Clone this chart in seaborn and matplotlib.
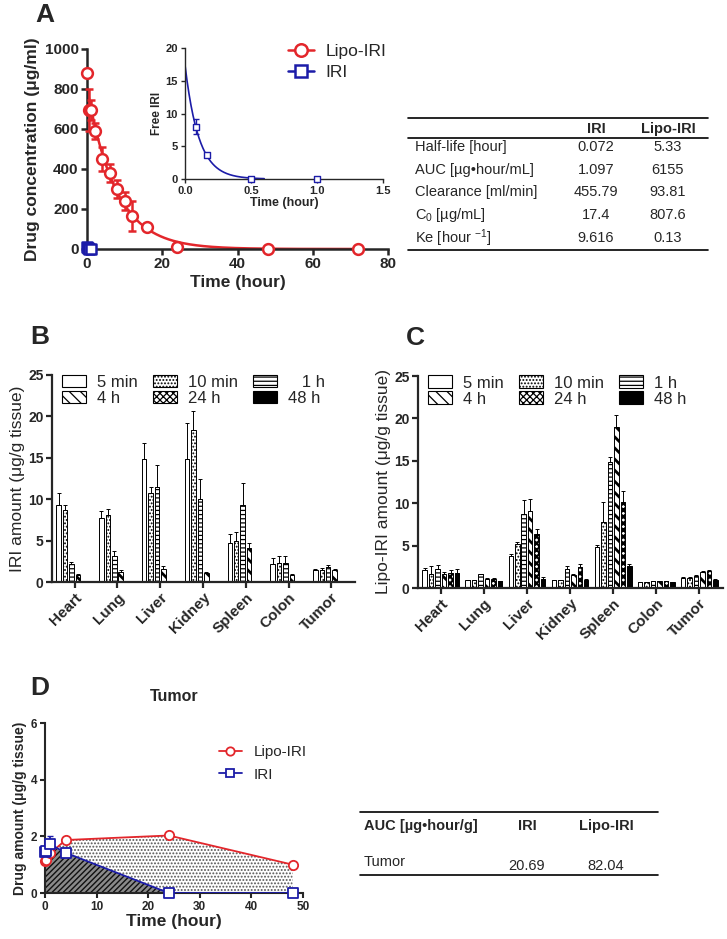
import numpy as np
import pandas as pd
import seaborn as sns
import matplotlib.pyplot as plt
from matplotlib.patches import Patch
from matplotlib.lines import Line2D
from matplotlib.container import BarContainer

sns.set_style('ticks')
plt.rcParams['font.family'] = ['Liberation Sans', 'DejaVu Sans']
plt.rcParams['mathtext.default'] = 'regular'
plt.rcParams['hatch.linewidth'] = 0.9

RED = '#e3262b'
BLUE = '#1c1ca8'

# ---- A: plasma concentration
lipo_t = [0.083, 0.5, 1, 2, 4, 6, 8, 10, 12, 16, 24, 48, 72]
lipo_c = [880, 695, 695, 590, 450, 378, 298, 240, 165, 110, 12, 0, 0]
lipo_sd = [0, 105, 50, 40, 60, 45, 45, 45, 75, 17, 0, 0, 0]
iri_t = [0.083, 0.167, 0.5, 1.0]
iri_c = [8.0, 3.6, 0, 0]
iri_sd = [1.2, 0.3, 0, 0]

pk_rows = ['Half-life [hour]', 'AUC [µg•hour/mL]', 'Clearance [ml/min]',
           'C$_0$ [µg/mL]', 'Ke [hour $^{-1}$]']
pk_iri = ['0.072', '1.097', '455.79', '17.4', '9.616']
pk_lipo = ['5.33', '6155', '93.81', '807.6', '0.13']

# ---- B / C: tissue distribution (rows = time point, cols = organ)
organs = ['Heart', 'Lung', 'Liver', 'Kidney', 'Spleen', 'Colon', 'Tumor']
times = ['5 min', '10 min', '1 h', '4 h', '24 h', '48 h']
iri_mean = [[9.3, 7.7, 14.9, 14.9, 4.7, 2.2, 1.4],
            [8.7, 8.1, 10.8, 18.4, 5.0, 2.3, 1.5],
            [2.2, 3.2, 11.5, 10.0, 9.3, 2.3, 1.8],
            [0.9, 1.2, 1.6, 1.1, 4.1, 0.9, 1.5],
            [0, 0, 0, 0, 0, 0, 0],
            [0, 0, 0, 0, 0, 0, 0]]
iri_err = [[1.4, 0.9, 1.9, 4.3, 1.1, 0.7, 0.2],
           [0.6, 0.7, 0.7, 2.3, 1.0, 0.8, 0.2],
           [0.2, 0.6, 2.6, 2.5, 2.6, 0.9, 0.3],
           [0.1, 0.2, 0.3, 0.1, 0.6, 0.05, 0.1],
           [0, 0, 0, 0, 0, 0, 0],
           [0, 0, 0, 0, 0, 0, 0]]
lipo_mean = [[2.1, 0.9, 3.8, 0.9, 4.8, 0.7, 1.2],
             [1.7, 0.9, 5.2, 0.9, 7.8, 0.7, 1.2],
             [2.2, 1.6, 8.7, 2.2, 14.8, 0.8, 1.4],
             [1.7, 1.1, 9.1, 1.5, 19.0, 0.8, 1.9],
             [1.8, 1.1, 6.4, 2.5, 10.1, 0.8, 2.0],
             [1.8, 0.8, 1.1, 1.0, 2.6, 0.7, 1.0]]
lipo_err = [[0.3, 0.05, 0.2, 0.05, 0.3, 0.05, 0.1],
            [0.9, 0.05, 0.2, 0.05, 2.4, 0.05, 0.1],
            [0.5, 0.1, 1.7, 0.4, 0.6, 0.05, 0.1],
            [0.2, 0.1, 1.4, 0.1, 1.4, 0.05, 0.1],
            [0.3, 0.1, 0.6, 0.3, 1.3, 0.05, 0.1],
            [0.4, 0.05, 0.2, 0.1, 0.2, 0.05, 0.05]]

# ---- D: tumor
tum_t = [0.083, 0.167, 1, 4, 24, 48]
tum_lipo = [1.12, 1.15, 1.4, 1.87, 2.03, 1.0]
tum_iri = [1.45, 1.5, 1.72, 1.42, 0, 0]
tum_iri_sd = [0, 0, 0.3, 0, 0, 0]
auc_iri = '20.69'
auc_lipo = '82.04'

W, H = 727, 939
fig = plt.figure(figsize=(W / 100, H / 100), dpi=100)


def px_axes(x0, y0, x1, y1):
    return fig.add_axes([x0 / W, 1 - y1 / H, (x1 - x0) / W, (y1 - y0) / H])


def style(ax, lw=1.6, size=9, length=4):
    sns.despine(ax=ax)
    for s in ['left', 'bottom']:
        ax.spines[s].set_linewidth(lw)
    ax.tick_params(width=lw, length=length, labelsize=size, pad=2)
    for lab in ax.get_xticklabels() + ax.get_yticklabels():
        lab.set_fontweight('bold')


def hatch_lw(patch, lw):
    # per-artist hatch width where the matplotlib build supports it
    if hasattr(patch, 'set_hatch_linewidth'):
        patch.set_hatch_linewidth(lw)
    elif hasattr(patch, '_hatch_linewidth'):
        patch._hatch_linewidth = lw


# ================= A =================
ax = px_axes(87, 49, 388, 249)
tt = np.linspace(0, 72, 400)
lipo_fit = float(pk_lipo[3]) * np.exp(-float(pk_lipo[4]) * tt)
ti = np.linspace(0, 0.6, 200)
iri_fit = float(pk_iri[3]) * np.exp(-float(pk_iri[4]) * ti)
sns.lineplot(x=tt, y=lipo_fit, ax=ax, color=RED, lw=1.8, zorder=2)
sns.lineplot(x=ti, y=iri_fit, ax=ax, color=BLUE, lw=1.5, zorder=2)
ax.errorbar(lipo_t, lipo_c, yerr=lipo_sd, fmt='none', ecolor=RED, elinewidth=1.8,
            capsize=3, capthick=1.8, zorder=3, clip_on=False)
sns.scatterplot(x=lipo_t, y=lipo_c, ax=ax, marker='o', s=60, facecolor='white',
                edgecolor=RED, linewidth=1.8, zorder=4, clip_on=False)
sns.scatterplot(x=iri_t, y=iri_c, ax=ax, marker='s', s=50, facecolor='white',
                edgecolor=BLUE, linewidth=1.8, zorder=5, clip_on=False)
ax.set_xlim(0, 80)
ax.set_ylim(0, 1000)
ax.set_xticks([0, 20, 40, 60, 80])
ax.set_yticks([0, 200, 400, 600, 800, 1000])
ax.set_xlabel('Time (hour)', fontsize=12.5, fontweight='bold', labelpad=3)
ax.set_ylabel('Drug concentration (μg/ml)', fontsize=12.5, fontweight='bold', labelpad=3)
style(ax, lw=1.8, size=11)

# inset
axi = px_axes(185, 48, 383, 179)
sns.lineplot(x=ti, y=iri_fit, ax=axi, color=BLUE, lw=1.2)
axi.errorbar(iri_t, iri_c, yerr=iri_sd, fmt='none', ecolor=BLUE, elinewidth=1.0,
             capsize=2, zorder=3, clip_on=False)
sns.scatterplot(x=iri_t, y=iri_c, ax=axi, marker='s', s=22, facecolor='white',
                edgecolor=BLUE, linewidth=1.0, zorder=4, clip_on=False)
axi.set_xlim(0, 1.5)
axi.set_ylim(0, 20)
axi.set_xticks([0, 0.5, 1.0, 1.5])
axi.set_xticklabels(['0.0', '0.5', '1.0', '1.5'])
axi.set_yticks([0, 5, 10, 15, 20])
axi.set_xlabel('Time (hour)', fontsize=9, fontweight='bold', labelpad=1)
axi.set_ylabel('Free IRI', fontsize=8.5, fontweight='bold', labelpad=2)
style(axi, lw=1.0, size=8, length=3)
axi.patch.set_alpha(0)

hA = [Line2D([], [], color=RED, marker='o', mfc='white', mec=RED, mew=1.8, ms=9, lw=1.8),
      Line2D([], [], color=BLUE, marker='s', mfc='white', mec=BLUE, mew=1.8, ms=8, lw=1.8)]
fig.legend(hA, ['Lipo-IRI', 'IRI'], loc='upper left', bbox_to_anchor=(272 / W, 1 - 28 / H),
           frameon=False, fontsize=12.5, handlelength=1.5, labelspacing=0.35, handletextpad=0.7)

# ================= B / C =================
fills = ['white', 'white', 'white', 'white', 'white', 'black']
hatches = ['', '.....', '----', '\\\\\\', 'xxxxx', '']
hatch_widths = [0.9, 0.9, 0.9, 2.0, 1.6, 0.9]


def tissue_panel(ax, mean, err, ylab, lab1h):
    rows = []
    for i, tp in enumerate(times):
        for j, org in enumerate(organs):
            rows.append({'organ': org, 'time': tp, 'value': mean[i][j]})
    df = pd.DataFrame(rows)
    sns.barplot(data=df, x='organ', y='value', hue='time', order=organs, hue_order=times,
                palette=dict(zip(times, fills)), width=0.9, gap=0.3, edgecolor='black',
                linewidth=0.7, legend=False, ax=ax)
    bar_sets = [c for c in ax.containers if isinstance(c, BarContainer)]
    for i, cont in enumerate(bar_sets):
        xs, hs = [], []
        for bar in cont.patches:
            bar.set_hatch(hatches[i])
            hatch_lw(bar, hatch_widths[i])
            xs.append(bar.get_x() + bar.get_width() / 2)
            hs.append(bar.get_height())
        e = np.array(err[i])
        ax.errorbar(xs, hs, yerr=[np.zeros_like(e), e], fmt='none', ecolor='black',
                    elinewidth=0.7, capsize=1.2, capthick=0.7)
    ax.set_xlim(-0.53, 6.55)
    ax.set_ylim(0, 25)
    ax.set_yticks([0, 5, 10, 15, 20, 25])
    ax.set_xlabel('')
    ax.set_ylabel(ylab, fontsize=12.5, labelpad=2)
    style(ax, lw=1.6, size=10)
    ax.tick_params(axis='x', labelsize=11)
    plt.setp(ax.get_xticklabels(), rotation=45, ha='right', rotation_mode='anchor')
    order = [0, 3, 1, 4, 2, 5]
    labels = list(times)
    labels[2] = lab1h
    hd = []
    for k in order:
        p = Patch(facecolor=fills[k], edgecolor='black', hatch=hatches[k], linewidth=0.8)
        hatch_lw(p, hatch_widths[k])
        hd.append(p)
    ax.legend(hd, [labels[k] for k in order], ncol=3, loc='upper left',
              bbox_to_anchor=(0.0, 1.05), frameon=False, fontsize=12,
              handlelength=1.45, handleheight=0.8, labelspacing=0.05,
              columnspacing=0.9, handletextpad=0.65, borderaxespad=0.2)


axB = px_axes(52, 375, 355, 582)
tissue_panel(axB, iri_mean, iri_err, 'IRI amount (μg/g tissue)', '   1 h')
axC = px_axes(418, 376, 723, 588)
tissue_panel(axC, lipo_mean, lipo_err, 'Lipo-IRI amount (μg/g tissue)', '1 h')

# ================= D =================
axD = px_axes(45, 723, 303, 893)
axD.fill_between(tum_t, tum_lipo, facecolor='white', hatch='.....', edgecolor='#555555',
                 linewidth=0, zorder=1)
fb = axD.fill_between(tum_t[:5], tum_iri[:5], facecolor='#8a8a8a', hatch='//////',
                      edgecolor='#111111', linewidth=0, zorder=1.5)
hatch_lw(fb, 1.0)
sns.lineplot(x=tum_t, y=tum_lipo, ax=axD, color=RED, lw=1.3, zorder=3)
sns.lineplot(x=tum_t, y=tum_iri, ax=axD, color=BLUE, lw=1.3, zorder=3)
axD.errorbar(tum_t, tum_iri, yerr=tum_iri_sd, fmt='none', ecolor=BLUE, elinewidth=1.3,
             capsize=2.5, zorder=3)
sns.scatterplot(x=tum_t, y=tum_lipo, ax=axD, marker='o', s=45, facecolor='white',
                edgecolor=RED, linewidth=1.3, zorder=4, clip_on=False)
sns.scatterplot(x=tum_t, y=tum_iri, ax=axD, marker='s', s=45, facecolor='white',
                edgecolor=BLUE, linewidth=1.3, zorder=5, clip_on=False)
axD.set_xlim(0, 50)
axD.set_ylim(0, 6)
axD.set_xticks([0, 10, 20, 30, 40, 50])
axD.set_yticks([0, 2, 4, 6])
axD.set_title('Tumor', fontsize=11.5, fontweight='bold', pad=16)
axD.set_xlabel('Time (hour)', fontsize=12.5, fontweight='bold', labelpad=1)
axD.set_ylabel('Drug amount (μg/g tissue)', fontsize=10, fontweight='bold', labelpad=3)
style(axD, lw=1.5, size=8.5, length=3.5)
hD = [Line2D([], [], color=RED, marker='o', mfc='white', mec=RED, mew=1.3, ms=6, lw=1.3),
      Line2D([], [], color=BLUE, marker='s', mfc='white', mec=BLUE, mew=1.3, ms=6, lw=1.3)]
axD.legend(hD, ['Lipo-IRI', 'IRI'], loc='upper left', bbox_to_anchor=(0.62, 0.95),
           frameon=False, fontsize=11, handlelength=1.5, labelspacing=0.55)

# ================= tables / panel letters =================
ov = fig.add_axes([0, 0, 1, 1])
ov.set_xlim(0, W)
ov.set_ylim(H, 0)
ov.axis('off')
ov.patch.set_alpha(0)

for y in [118, 138, 250]:
    ov.plot([408, 708], [y, y], color='black', lw=1.2)
ov.text(596, 129, 'IRI', ha='center', va='center', fontsize=10.5, fontweight='bold')
ov.text(668, 129, 'Lipo-IRI', ha='center', va='center', fontsize=10.5, fontweight='bold')
for k, name in enumerate(pk_rows):
    y = 147 + k * 22.7
    ov.text(415, y, name, ha='left', va='center', fontsize=10.5)
    ov.text(596, y, pk_iri[k], ha='center', va='center', fontsize=10.5)
    ov.text(668, y, pk_lipo[k], ha='center', va='center', fontsize=10.5)

for y in [812, 875]:
    ov.plot([360, 658], [y, y], color='black', lw=1.2)
ov.text(364, 826, 'AUC [µg•hour/g]', ha='left', va='center', fontsize=10.5, fontweight='bold')
ov.text(527, 826, 'IRI', ha='center', va='center', fontsize=10.5, fontweight='bold')
ov.text(606, 826, 'Lipo-IRI', ha='center', va='center', fontsize=10.5, fontweight='bold')
ov.text(364, 862, 'Tumor', ha='left', va='center', fontsize=10.5)
ov.text(527, 866, auc_iri, ha='center', va='center', fontsize=10.5)
ov.text(606, 866, auc_lipo, ha='center', va='center', fontsize=10.5)

for letter, x, y in [('A', 45, 15), ('B', 40, 337), ('C', 415, 338), ('D', 40, 688)]:
    ov.text(x, y, letter, ha='center', va='center', fontsize=19, fontweight='bold')

fig.savefig('out.png', dpi=100)
